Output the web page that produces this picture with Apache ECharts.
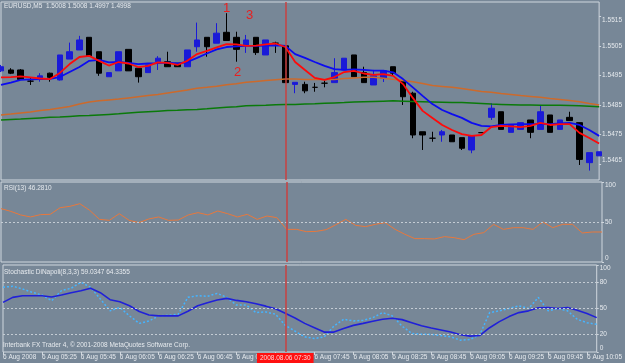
<!DOCTYPE html>
<html>
<head>
<meta charset="utf-8">
<script src="https://cdn.jsdelivr.net/npm/echarts@6/dist/echarts.min.js"></script>
<style>
  html, body { margin: 0; padding: 0; background: #778797; }
  #chart { width: 625px; height: 363px; }
</style>
</head>
<body>
<div id="chart"></div>
<script>
// 5-minute bars, 6 Aug 2008
const times = ["05:05","05:10","05:15","05:20","05:25","05:30","05:35","05:40","05:45","05:50","05:55",
  "06:00","06:05","06:10","06:15","06:20","06:25","06:30","06:35","06:40","06:45","06:50","06:55",
  "07:00","07:05","07:10","07:15","07:20","07:25","07:30","07:35","07:40","07:45","07:50","07:55",
  "08:00","08:05","08:10","08:15","08:20","08:25","08:30","08:35","08:40","08:45","08:50","08:55",
  "09:00","09:05","09:10","09:15","09:20","09:25","09:30","09:35","09:40","09:45","09:50","09:55",
  "10:00","10:05","10:10"];

// [open, close, low, high]
const ohlc = [
  [1.54966,1.54980,1.54962,1.54986],[1.54969,1.54958,1.54955,1.54975],[1.54969,1.54937,1.54935,1.54972],
  [1.54931,1.54931,1.54918,1.54944],[1.54937,1.54949,1.54929,1.54958],[1.54958,1.54944,1.54929,1.54960],
  [1.54935,1.55020,1.54933,1.55020],[1.55006,1.55031,1.55006,1.55062],[1.55037,1.55071,1.55037,1.55085],
  [1.55080,1.55017,1.55017,1.55080],[1.55031,1.54958,1.54949,1.55031],[1.54946,1.54960,1.54946,1.54960],
  [1.54966,1.55031,1.54966,1.55031],[1.55039,1.54966,1.54966,1.55039],[1.54975,1.54946,1.54926,1.54975],
  [1.54960,1.54986,1.54960,1.54986],[1.54997,1.55009,1.54969,1.55016],[1.54997,1.54980,1.54980,1.55031],
  [1.54992,1.54980,1.54980,1.54992],[1.54980,1.55037,1.54980,1.55037],[1.55048,1.55071,1.55031,1.55130],
  [1.55080,1.55048,1.55014,1.55080],[1.55060,1.55094,1.55060,1.55128],[1.55097,1.55069,1.55069,1.55162],
  [1.55080,1.55039,1.54997,1.55099],[1.55054,1.55071,1.55027,1.55088],[1.55080,1.55028,1.55020,1.55080],
  [1.55020,1.55071,1.55020,1.55071],[1.55060,1.55060,1.55027,1.55065],[1.55051,1.54926,1.54926,1.55051],
  [1.54920,1.54927,1.54890,1.54927],[1.54920,1.54898,1.54890,1.54929],[1.54910,1.54910,1.54895,1.54925],
  [1.54924,1.54924,1.54910,1.54933],[1.54926,1.54960,1.54926,1.55009],[1.54969,1.55009,1.54969,1.55009],
  [1.55020,1.54946,1.54946,1.55020],[1.54960,1.54926,1.54926,1.54980],[1.54918,1.54949,1.54918,1.54969],
  [1.54941,1.54966,1.54928,1.54966],[1.54980,1.54958,1.54949,1.54980],[1.54929,1.54878,1.54850,1.54929],
  [1.54890,1.54748,1.54737,1.54895],[1.54759,1.54748,1.54697,1.54759],[1.54737,1.54737,1.54725,1.54759],
  [1.54748,1.54759,1.54725,1.54765],[1.54748,1.54725,1.54725,1.54748],[1.54739,1.54703,1.54697,1.54739],
  [1.54697,1.54745,1.54686,1.54745],[1.54756,1.54756,1.54755,1.54757],[1.54808,1.54839,1.54799,1.54856],
  [1.54827,1.54767,1.54767,1.54827],[1.54757,1.54782,1.54757,1.54782],[1.54767,1.54790,1.54767,1.54790],
  [1.54799,1.54757,1.54737,1.54799],[1.54767,1.54827,1.54767,1.54850],[1.54816,1.54757,1.54757,1.54816],
  [1.54767,1.54799,1.54767,1.54799],[1.54808,1.54797,1.54797,1.54827],[1.54790,1.54665,1.54646,1.54790],
  [1.54654,1.54688,1.54627,1.54688],[1.54677,1.54691,1.54677,1.54691]
];

// moving averages
const maRed = [1.54944,1.54945,1.54947,1.54944,1.54940,1.54938,1.54959,1.54989,1.55013,1.55017,1.55000,
  1.54984,1.54996,1.54991,1.54979,1.54983,1.54995,1.54993,1.54986,1.55000,1.55023,1.55034,1.55046,1.55057,
  1.55056,1.55051,1.55052,1.55056,1.55059,1.55047,1.54996,1.54969,1.54942,1.54935,1.54945,1.54962,1.54966,
  1.54957,1.54952,1.54955,1.54949,1.54921,1.54874,1.54830,1.54806,1.54782,1.54765,1.54751,1.54745,1.54748,
  1.54775,1.54779,1.54777,1.54775,1.54779,1.54789,1.54782,1.54785,1.54785,1.54755,1.54738,1.54719];
const maBlue = [1.54918,1.54926,1.54935,1.54937,1.54938,1.54939,1.54945,1.54962,1.54979,1.55000,1.55003,
  1.54995,1.54996,1.54993,1.54989,1.54991,1.54992,1.54994,1.54991,1.54996,1.55010,1.55025,1.55039,1.55047,
  1.55049,1.55051,1.55051,1.55052,1.55053,1.55051,1.55023,1.55010,1.54996,1.54983,1.54972,1.54969,1.54971,
  1.54969,1.54967,1.54967,1.54961,1.54938,1.54910,1.54881,1.54853,1.54833,1.54819,1.54806,1.54789,1.54779,
  1.54777,1.54782,1.54784,1.54785,1.54785,1.54785,1.54785,1.54787,1.54789,1.54782,1.54765,1.54745];
const maOrange = [1.54816,1.54819,1.54823,1.54826,1.54831,1.54835,1.54840,1.54845,1.54853,1.54860,1.54864,
  1.54867,1.54870,1.54874,1.54878,1.54882,1.54886,1.54891,1.54896,1.54901,1.54907,1.54910,1.54914,1.54919,
  1.54922,1.54927,1.54930,1.54933,1.54936,1.54938,1.54938,1.54937,1.54937,1.54937,1.54937,1.54940,1.54942,
  1.54944,1.54944,1.54941,1.54937,1.54933,1.54929,1.54923,1.54916,1.54913,1.54910,1.54906,1.54901,1.54896,
  1.54893,1.54889,1.54886,1.54882,1.54879,1.54876,1.54872,1.54869,1.54865,1.54861,1.54855,1.54850];
const maGreen = [1.54799,1.54801,1.54802,1.54804,1.54806,1.54808,1.54809,1.54811,1.54813,1.54814,1.54816,
  1.54818,1.54820,1.54823,1.54825,1.54827,1.54829,1.54831,1.54832,1.54834,1.54835,1.54837,1.54840,1.54842,
  1.54844,1.54847,1.54848,1.54849,1.54851,1.54852,1.54852,1.54853,1.54854,1.54856,1.54857,1.54858,1.54860,
  1.54861,1.54862,1.54863,1.54864,1.54863,1.54862,1.54861,1.54860,1.54859,1.54858,1.54858,1.54857,1.54855,
  1.54853,1.54852,1.54851,1.54850,1.54850,1.54849,1.54849,1.54849,1.54848,1.54847,1.54846,1.54844];

const rsi = [66.7,63.3,58.8,56.3,59.2,59.6,67.9,69.6,72.9,64.6,53.3,52.1,60.4,52.1,49.2,53.8,56.3,52.1,52.5,
  58.8,61.7,58.8,63.8,60.4,56.3,59.6,53.3,57.5,55.4,40.8,40.8,37.9,38.3,40.4,46.7,53.3,45.8,44.2,47.1,49.2,
  40.8,34.6,29.2,29.2,28.8,31.7,30.4,27.9,34.6,36.7,47.1,40.8,42.9,42.9,40.8,50.0,42.9,47.1,47.1,36.3,37.5,37.5];

const stochMain = [57.0,62.8,64.7,64.7,64.7,63.2,65.5,68.2,70.5,73.3,68.2,60.1,57.8,53.1,46.5,42.6,41.5,41.5,
  41.5,46.9,53.1,56.6,59.7,61.6,59.3,57.8,55.4,52.7,49.6,44.6,39.1,32.9,27.9,22.9,22.9,27.1,30.6,32.9,35.3,
  37.6,38.8,37.2,33.7,30.2,27.5,25.2,22.9,19.8,18.2,19.0,27.9,34.9,40.7,45.3,47.3,50.8,51.2,50.0,51.2,48.1,44.2,39.5];
const stochSignal = [74.4,75.6,72.5,68.6,65.5,58.9,70.5,73.3,80.2,74.4,60.9,47.3,51.2,41.5,32.9,35.7,41.5,42.2,
  43.4,62.8,64.7,64.0,67.4,62.8,53.9,53.9,45.3,46.1,43.4,30.6,24.0,17.4,15.5,17.4,29.8,37.6,35.7,36.4,39.5,
  45.3,41.5,29.8,21.3,20.5,20.2,19.0,17.4,13.6,14.3,20.2,45.3,47.3,50.0,53.1,50.0,62.8,47.3,50.0,47.3,37.6,33.7,31.8];

const priceTicks = [1.5465, 1.5475, 1.5485, 1.5495, 1.5505, 1.5515];
const rsiTicks = [0, 50, 100];
const stochTicks = [0, 20, 50, 80, 100];
const markerTime = "07:30";

const chart = echarts.init(document.getElementById("chart"));
const txt = "#e6eaee";
const frame = "#d0d7de";
const font = "Liberation Sans";

function xAx(i, showLabels) {
  return {
    type: "category", gridIndex: i, data: times, boundaryGap: false,
    axisLine: { show: false },
    axisTick: { show: showLabels, interval: 3, length: 3, lineStyle: { color: frame } },
    axisLabel: {
      show: showLabels, interval: 3, align: "left", margin: 2,
      color: txt, fontSize: 6.5, fontFamily: font,
      formatter: function (v, idx) { return idx === 0 ? "6 Aug 2008" : "6 Aug " + v; }
    },
    splitLine: { show: false }
  };
}
function yAx(i, min, max, ticks, fmt) {
  return {
    type: "value", gridIndex: i, position: "right", min: min, max: max,
    axisLine: { show: false },
    splitLine: { show: false },
    axisTick: { show: true, length: 2, customValues: ticks, lineStyle: { color: frame } },
    axisLabel: {
      customValues: ticks, color: txt, fontSize: 6.5, fontFamily: font, margin: 3,
      formatter: fmt, verticalAlignMaxLabel: "top", verticalAlignMinLabel: "bottom"
    }
  };
}
const vLine = function (withLabel) {
  return {
    silent: true, symbol: "none", animation: false, z: 10,
    lineStyle: { color: "#c84040", width: 1.5, type: "solid", opacity: 1 },
    label: withLabel ? {
      show: true, position: "start", distance: 1,
      formatter: "2008.08.06 " + markerTime,
      backgroundColor: "#ff1010", color: "#ffd6d6", fontSize: 6.5, fontFamily: font, padding: [2, 3, 1, 3]
    } : { show: false },
    data: [{ xAxis: markerTime }]
  };
};
const hLines = function (vals) {
  return {
    silent: true, symbol: "none", animation: false,
    lineStyle: { color: "#c4ccd4", width: 1, type: [2, 2] },
    label: { show: false },
    data: vals.map(function (v) { return { yAxis: v }; })
  };
};
function line(name, data, xi, color, width, type) {
  return {
    name: name, type: "line", data: data, xAxisIndex: xi, yAxisIndex: xi,
    showSymbol: false, symbol: "none", animation: false,
    lineStyle: { color: color, width: width, type: type || "solid" }
  };
}

const option = {
  backgroundColor: "#778797",
  animation: false,
  grid: [
    { left: 1, right: 23, top: 2, height: 178, show: true, borderColor: frame, borderWidth: 1 },
    { left: 1, right: 23, top: 182, height: 80, show: true, borderColor: frame, borderWidth: 1 },
    { left: 1, right: 23, top: 265, height: 87, show: true, borderColor: frame, borderWidth: 1 }
  ],
  xAxis: [xAx(0, false), xAx(1, false), xAx(2, true)],
  yAxis: [
    yAx(0, 1.54595, 1.55200, priceTicks, function (v) { return v.toFixed(4); }),
    yAx(1, 0, 100, rsiTicks, function (v) { return String(v); }),
    yAx(2, 0, 100, stochTicks, function (v) { return String(v); })
  ],
  graphic: [
    { type: "text", left: 4, top: 3, style: { text: "EURUSD,M5  1.5008 1.5008 1.4997 1.4998", fill: txt, font: "6.5px " + font } },
    { type: "text", left: 4, top: 185, style: { text: "RSI(13) 46.2810", fill: txt, font: "6.5px " + font } },
    { type: "text", left: 4, top: 269, style: { text: "Stochastic DiNapoli(8,3,3) 59.0347 64.3355", fill: txt, font: "6.5px " + font } },
    { type: "text", left: 3, top: 342, style: { text: "Interbank FX Trader 4, \u00a9 2001-2008 MetaQuotes Software Corp.", fill: txt, font: "6.5px " + font } },
    { type: "text", left: 223, top: 2, style: { text: "1", fill: "#e82020", font: "13px " + font } },
    { type: "text", left: 246, top: 9, style: { text: "3", fill: "#e82020", font: "13px " + font } },
    { type: "text", left: 234, top: 66, style: { text: "2", fill: "#e82020", font: "13px " + font } }
  ],
  series: [
    line("MA slow", maGreen, 0, "#0a7a0a", 1.5),
    line("MA long", maOrange, 0, "#cc6a2c", 1.5),
    {
      name: "EURUSD", type: "candlestick", data: ohlc, xAxisIndex: 0, yAxisIndex: 0,
      barWidth: 6, animation: false, clip: true,
      itemStyle: {
        color: "#1a1ad8", color0: "#000000",
        borderColor: "#1a1ad8", borderColor0: "#000000", borderColorDoji: "#000000", borderWidth: 1
      }
    },
    line("MA blue", maBlue, 0, "#0c0cf0", 1.8),
    Object.assign(line("MA red", maRed, 0, "#ff0a0a", 1.8), { markLine: vLine(false) }),
    Object.assign(line("RSI", rsi, 1, "#e8783c", 1), { markLine: hLines([50]) }),
    { type: "line", data: [], xAxisIndex: 1, yAxisIndex: 1, markLine: vLine(false) },
    Object.assign(line("Signal", stochSignal, 2, "#45b4ff", 1.5, [2, 2]), { markLine: hLines([20, 50, 80]) }),
    Object.assign(line("Main", stochMain, 2, "#2020d8", 1.6), { markLine: vLine(true) })
  ]
};
chart.setOption(option);
</script>
</body>
</html>
